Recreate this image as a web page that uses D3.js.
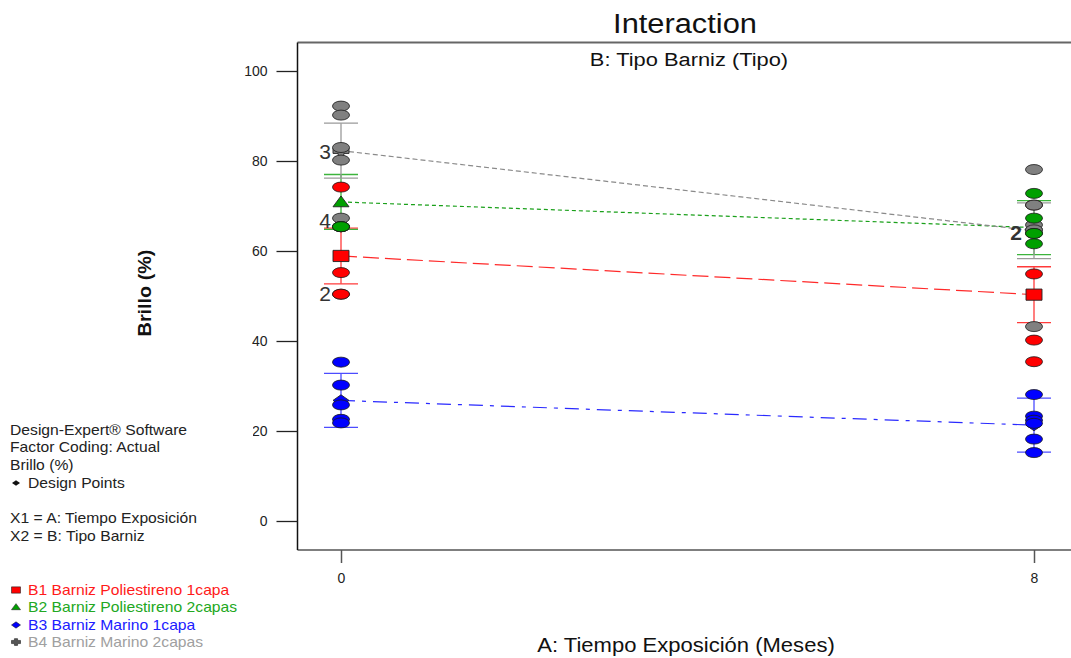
<!DOCTYPE html>
<html>
<head>
<meta charset="utf-8">
<script src="https://cdn.jsdelivr.net/npm/d3@7"></script>
<style>
  html, body { margin: 0; padding: 0; background: #fff; }
  svg { display: block; font-family: "Liberation Sans", Arial, sans-serif; }
</style>
</head>
<body>
<svg id="chart" width="1071" height="658"></svg>
<script>
// ---- data ----
const timeLevels = [0, 8];                 // A: Tiempo Exposición (Meses)
const yTicks = [0, 20, 40, 60, 80, 100];
const seriesNames = [
  "B1 Barniz Poliestireno 1capa",
  "B2 Barniz Poliestireno 2capas",
  "B3 Barniz Marino 1capa",
  "B4 Barniz Marino 2capas"
];
// predicted means at each exposure time
const meansB1 = [58.9, 50.3];
const meansB2 = [70.9, 65.2];
const meansB3 = [26.8, 21.3];
const meansB4 = [82.3, 64.5];
// LSD half-widths
const lsdB1 = [6.2, 6.2];
const lsdB2 = [6.1, 6.0];
const lsdB3 = [6.0, 6.0];
const lsdB4 = [6.1, 6.2];
// design points (observed brillo) at t = 0 and t = 8
const pointsB1 = [[74.2, 55.2, 50.4, 50.4], [70.2, 54.9, 40.2, 35.4]];
const pointsB2 = [[65.4, 65.4, 65.4, 65.4], [72.8, 67.3, 63.9, 63.9, 61.6]];
const pointsB3 = [[35.3, 30.2, 25.8, 22.6, 21.8], [28.1, 23.3, 22.4, 21.7, 18.2, 15.2]];
const pointsB4 = [[92.2, 90.2, 83.0, 80.2, 67.3], [78.1, 70.2, 65.8, 64.7, 43.2]];
// replicate counts printed beside coincident points: [time, value, count]
const countLabels = [[0, 82.0, "3"], [0, 66.6, "4"], [0, 50.4, "2"], [8, 63.9, "2"]];

// ---- styles ----
const styles = [
  { fill: "#ff0000", bar: "#ff3a3a", line: "#ff2a2a", dash: "16,6", text: "#ff1a1a", shape: "square" },
  { fill: "#00a000", bar: "#3cb43c", line: "#1aa01a", dash: "4,3", text: "#22a822", shape: "triangle" },
  { fill: "#0000ff", bar: "#4c4cff", line: "#2a2aff", dash: "14,7,4,7", text: "#2020ff", shape: "diamond" },
  { fill: "#808080", bar: "#9a9a9a", line: "#8a8a8a", dash: "5,3", text: "#a0a0a0", shape: "cross" }
];
const series = seriesNames.map((name, i) => ({
  name,
  means: [meansB1, meansB2, meansB3, meansB4][i],
  lsd: [lsdB1, lsdB2, lsdB3, lsdB4][i],
  points: [pointsB1, pointsB2, pointsB3, pointsB4][i],
  style: styles[i]
}));

const SX = 1.12;   // horizontal stretch of the typeface
const svg = d3.select("#chart");

function label(g, x, y, s, o = {}) {
  return g.append("text")
    .attr("transform", `translate(${x},${y}) rotate(${o.rotate || 0}) scale(${o.sx || SX},1)`)
    .attr("text-anchor", o.anchor || "start")
    .attr("font-size", o.size || 14)
    .attr("font-weight", o.weight || "normal")
    .attr("fill", o.fill || "#111")
    .text(s);
}

function markerPath(shape, s) {
  if (shape === "square") return `M${-s},${-s * 0.7}h${2 * s}v${1.4 * s}h${-2 * s}Z`;
  if (shape === "triangle") return `M0,${-s * 0.75}L${s},${s * 0.6}L${-s},${s * 0.6}Z`;
  if (shape === "diamond") return `M0,${-s * 0.7}L${s},0L0,${s * 0.7}L${-s},0Z`;
  // cross
  const a = s, b = s * 0.35, c = s * 0.75;
  return `M${-b},${-c}H${b}V${-b}H${a}V${b}H${b}V${c}H${-b}V${b}H${-a}V${-b}H${-b}Z`;
}

// ---- scales ----
const x = d3.scaleLinear().domain([0, 8]).range([341, 1034]);
const y = d3.scaleLinear().domain([0, 100]).range([521, 71]);
const plot = { left: 297.5, top: 42.5, bottom: 550, right: 1075 };

// frame
svg.append("line").attr("x1", plot.left).attr("x2", plot.right).attr("y1", plot.top).attr("y2", plot.top)
  .attr("stroke", "#666").attr("stroke-width", 2);
svg.append("line").attr("x1", plot.left).attr("x2", plot.right).attr("y1", plot.bottom).attr("y2", plot.bottom)
  .attr("stroke", "#555").attr("stroke-width", 1.5);
svg.append("line").attr("x1", plot.left).attr("x2", plot.left).attr("y1", plot.top).attr("y2", plot.bottom)
  .attr("stroke", "#111").attr("stroke-width", 1.5);

// y axis
const yAxis = svg.append("g").attr("transform", `translate(${plot.left},0)`)
  .call(d3.axisLeft(y).tickValues(yTicks).tickSize(21).tickPadding(9));
yAxis.select(".domain").remove();
yAxis.selectAll(".tick line").attr("stroke", "#222").attr("stroke-width", 1.3);
yAxis.selectAll(".tick text").attr("font-size", 14).attr("fill", "#222")
  .attr("font-family", "Liberation Sans, Arial, sans-serif");

// x axis
const xAxis = svg.append("g").attr("transform", `translate(0,${plot.bottom})`)
  .call(d3.axisBottom(x).tickValues(timeLevels).tickSize(13).tickPadding(10).tickFormat(d3.format("d")));
xAxis.select(".domain").remove();
xAxis.selectAll(".tick line").attr("stroke", "#555").attr("stroke-width", 1.5);
xAxis.selectAll(".tick text").attr("font-size", 14).attr("fill", "#222")
  .attr("font-family", "Liberation Sans, Arial, sans-serif");

// titles
label(svg, 685, 33, "Interaction", { size: 28, anchor: "middle", sx: 1.1 });
label(svg, 689, 66, "B: Tipo Barniz (Tipo)", { size: 19, anchor: "middle", sx: 1.15 });
label(svg, 686, 652, "A: Tiempo Exposición (Meses)", { size: 19.5, anchor: "middle", sx: 1.13 });
label(svg, 151, 293, "Brillo (%)", { size: 18, anchor: "middle", weight: "bold", rotate: -90, sx: 1.1 });

// interaction lines
const lineGen = d3.line().x((d, i) => x(timeLevels[i])).y(d => y(d));
series.forEach(s => {
  svg.append("path").attr("d", lineGen(s.means)).attr("fill", "none")
    .attr("stroke", s.style.line).attr("stroke-width", 1.2).attr("stroke-dasharray", s.style.dash);
});

// LSD bars
const capHalf = 17;
series.forEach(s => {
  const g = svg.append("g").attr("stroke", s.style.bar).attr("stroke-width", 1.3);
  timeLevels.forEach((t, i) => {
    const lo = s.means[i] - s.lsd[i], hi = s.means[i] + s.lsd[i];
    g.append("line").attr("x1", x(t)).attr("x2", x(t)).attr("y1", y(lo)).attr("y2", y(hi));
    [lo, hi].forEach(v => g.append("line").attr("x1", x(t) - capHalf).attr("x2", x(t) + capHalf)
      .attr("y1", y(v)).attr("y2", y(v)));
  });
});

// mean markers
series.forEach(s => {
  timeLevels.forEach((t, i) => {
    svg.append("path").attr("d", markerPath(s.style.shape, 8))
      .attr("transform", `translate(${x(t)},${y(s.means[i])})`)
      .attr("fill", s.style.fill).attr("stroke", "#222").attr("stroke-width", 0.9);
  });
});

// design points
[0, 3, 1, 2].forEach(k => {
  const s = series[k];
  timeLevels.forEach((t, i) => {
    svg.append("g").selectAll("ellipse").data(s.points[i]).join("ellipse")
      .attr("cx", x(t)).attr("cy", d => y(d)).attr("rx", 8.5).attr("ry", 5)
      .attr("fill", s.style.fill).attr("stroke", "#1a1a1a").attr("stroke-width", 0.8);
  });
});

// replicate counts
countLabels.forEach(([t, v, n]) => {
  const px = t === 0 ? x(t) - 16 : x(t) - 18;
  label(svg, px, y(v) + 7, n, { size: 20, anchor: "middle", fill: "#333", sx: 1.05,
    weight: t === 0 ? "normal" : "bold" });
});

// info panel
const info = svg.append("g");
info.append("rect").attr("x", 0).attr("y", 414).attr("width", 253).attr("height", 136).attr("fill", "#fff");
const infoLines = [
  [435, "Design-Expert® Software"],
  [452, "Factor Coding: Actual"],
  [470, "Brillo (%)"],
  [523, "X1 = A: Tiempo Exposición"],
  [541, "X2 = B: Tipo Barniz"]
];
infoLines.forEach(([yy, s]) => label(info, 10, yy, s, { size: 14, fill: "#222" }));
info.append("path").attr("d", markerPath("diamond", 4)).attr("transform", "translate(16,483)").attr("fill", "#111");
label(info, 28, 488, "Design Points", { size: 14, fill: "#222" });

// series legend
const legY = [595, 612, 630, 647];
series.forEach((s, i) => {
  info.append("path").attr("d", markerPath(s.style.shape, 4.5))
    .attr("transform", `translate(16,${legY[i] - 5})`)
    .attr("fill", s.style.shape === "cross" ? "#555" : s.style.fill)
    .attr("stroke", "#222").attr("stroke-width", 0.6);
  label(info, 28, legY[i], s.name, { size: 14, fill: s.style.text });
});
</script>
</body>
</html>
